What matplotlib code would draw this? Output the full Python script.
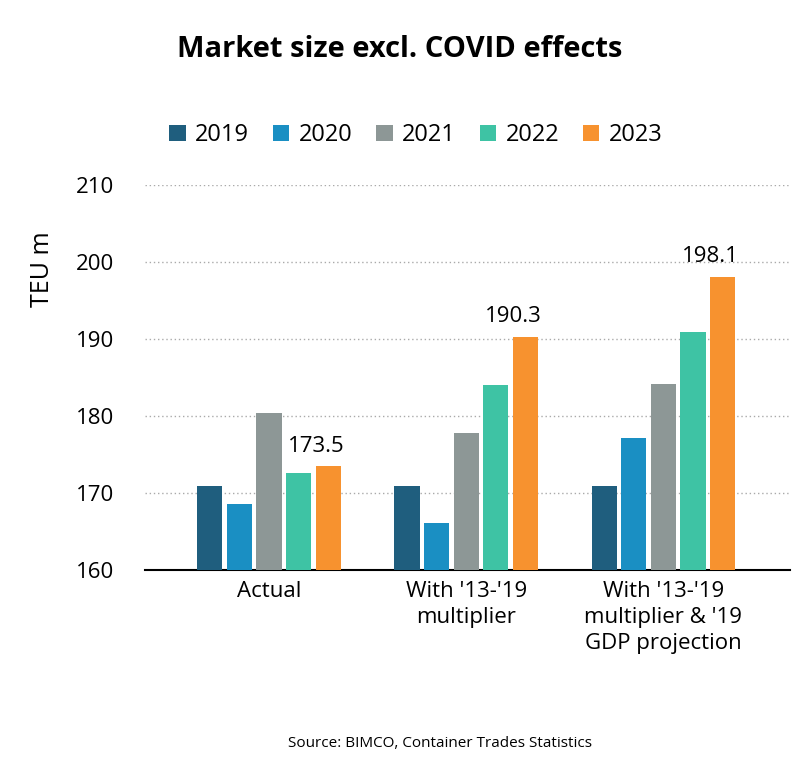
import matplotlib.pyplot as plt
import numpy as np

plt.rcParams['font.family'] = ['Open Sans', 'DejaVu Sans']

groups = ["Actual", "With '13-'19\nmultiplier", "With '13-'19\nmultiplier & '19\nGDP projection"]
years = ["2019", "2020", "2021", "2022", "2023"]
values = {
    "2019": [170.9, 170.9, 170.9],
    "2020": [168.6, 166.1, 177.1],
    "2021": [180.4, 177.8, 184.2],
    "2022": [172.6, 184.0, 190.9],
    "2023": [173.5, 190.3, 198.1],
}
colors = ["#1f5e7e", "#1a8fc3", "#8d9796", "#3ec3a4", "#f7922f"]

fig = plt.figure(figsize=(8, 7.64), dpi=100)
ax = fig.add_axes([0.181, 0.254, 0.806, 0.504])

x = np.arange(len(groups))
width = 0.128
step = 0.15
for i, (yr, col) in enumerate(zip(years, colors)):
    pos = x + (i - 2) * step
    ax.bar(pos, np.array(values[yr]) - 160, width, bottom=160, color=col, label=yr, zorder=3)
    if yr == "2023":
        for px, v in zip(pos, values[yr]):
            ax.text(px - 0.06, v + 1.2, f"{v:.1f}", ha="center", va="bottom", fontsize=16)

ax.set_ylim(160, 210)
ax.set_xlim(-0.63, 2.64)
ax.set_yticks(range(160, 211, 10))
ax.set_xticks(x)
ax.set_xticklabels(groups, fontsize=16, linespacing=1.3)
ax.tick_params(axis="y", labelsize=16, length=0, pad=22)
ax.tick_params(axis="x", length=0, pad=8)
ax.yaxis.grid(True, linestyle=(0, (1, 2)), color="#aaaaaa", linewidth=1, zorder=0)
for s in ("top", "right", "left"):
    ax.spines[s].set_visible(False)
ax.spines["bottom"].set_linewidth(1.5)
ax.set_ylabel("TEU m", fontsize=18, labelpad=10)
ax.yaxis.set_label_coords(-0.14, 0.78)

fig.text(0.5, 0.925, "Market size excl. COVID effects", ha="center", fontsize=21, fontweight="bold")
fig.legend(loc="center", bbox_to_anchor=(0.52, 0.823), ncol=5, frameon=False, fontsize=17,
           handlelength=0.7, handleheight=0.7, columnspacing=1.0, handletextpad=0.4)
fig.text(0.55, 0.022, "Source: BIMCO, Container Trades Statistics", ha="center", fontsize=11)

fig.savefig("out.png", dpi=100, facecolor="white")
